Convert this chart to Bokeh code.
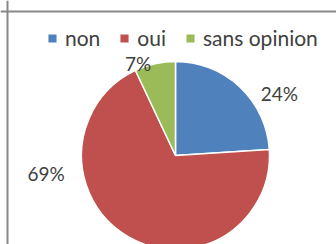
import math
from bokeh.plotting import figure
from bokeh.models import ColumnDataSource, Legend, LegendItem, Span
from bokeh.embed import file_html
from bokeh.resources import INLINE
from bokeh.core.properties import value

# data
categories = ["non", "oui", "sans opinion"]
percents = [24, 69, 7]
colors = ["#4F81BD", "#C0504D", "#9BBB59"]

# label placement (style): angle in degrees and radius as multiple of pie radius
label_angle_deg = [31, 188, 112]
label_radius = [1.29, 1.39, 1.06]

W, H = 336, 244
R_PX = 94.0
CX, CY = 175.0, 155.0  # pie centre, px from top-left of canvas
u = 1.0 / R_PX

x0 = -CX * u
x1 = (W - CX) * u
y0 = -(H - CY) * u
y1 = CY * u

total = float(sum(percents))
starts, ends, lx, ly, texts = [], [], [], [], []
cum = 0.0
for i, v in enumerate(percents):
    s = math.pi / 2 - cum / total * 2 * math.pi
    cum += v
    e = math.pi / 2 - cum / total * 2 * math.pi
    starts.append(s)
    ends.append(e)
    a = math.radians(label_angle_deg[i])
    lx.append(label_radius[i] * math.cos(a))
    ly.append(label_radius[i] * math.sin(a))
    texts.append(f"{v}%")

p = figure(width=W, height=H, x_range=(x0, x1), y_range=(y0, y1),
           output_backend="svg", toolbar_location=None, min_border=0)
p.axis.visible = False
p.grid.visible = False
p.outline_line_color = None
p.background_fill_color = "white"
p.border_fill_color = "white"

renderers = []
for i in range(len(percents)):
    src = ColumnDataSource(dict(x=[0], y=[0], s=[starts[i]], e=[ends[i]]))
    r = p.wedge(x="x", y="y", radius=1.0, start_angle="s", end_angle="e",
                direction="clock", source=src, fill_color=colors[i],
                line_color="white", line_width=1.5)
    renderers.append(r)

lab = ColumnDataSource(dict(x=lx, y=ly, t=texts))
p.text(x="x", y="y", text="t", source=lab, text_align="center",
       text_baseline="middle", text_font=value("Lato"),
       text_font_size="19px", text_color="#404040")

# frame border (left and top visible in the crop)
p.add_layout(Span(location=x0 + 7.0 * u, dimension="height",
                  line_color="#888888", line_width=2))
p.add_layout(Span(location=y1 - 11.0 * u, dimension="width",
                  line_color="#888888", line_width=2))

legend = Legend(items=[LegendItem(label=c, renderers=[r]) for c, r in zip(categories, renderers)],
                orientation="horizontal", location=(46, 194),
                glyph_width=12, glyph_height=12, label_standoff=7, spacing=18,
                padding=0, margin=0, border_line_color=None,
                background_fill_alpha=0, label_text_font="Lato",
                label_text_font_size="21px", label_text_color="#404040")
p.add_layout(legend)

open("out.html", "w").write(file_html(p, INLINE))
